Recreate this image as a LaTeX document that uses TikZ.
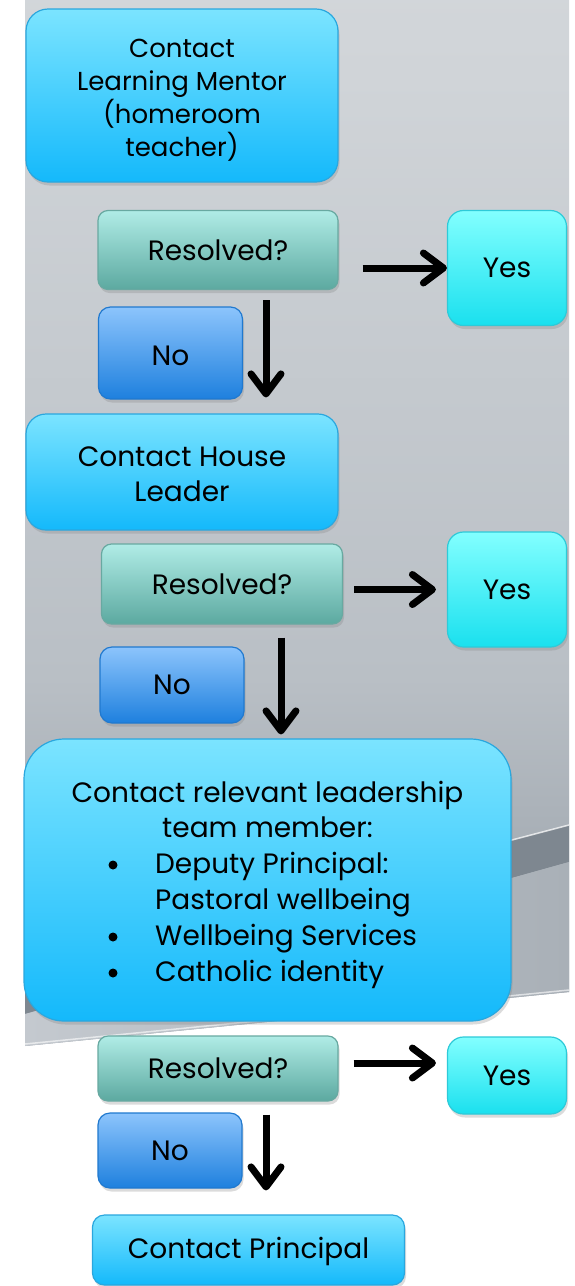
\documentclass[tikz,border=0pt]{standalone}
\usepackage{fontspec}
\setmainfont{Poppins}
\usetikzlibrary{arrows.meta,shadows,calc}
\definecolor{mbT}{HTML}{7BE4FF}
\definecolor{mbB}{HTML}{14B9FB}
\definecolor{mbD}{HTML}{2AA7DE}
\definecolor{rsT}{HTML}{B0ECE6}
\definecolor{rsB}{HTML}{5CA9A0}
\definecolor{rsD}{HTML}{68A9A1}
\definecolor{ysT}{HTML}{82FFFF}
\definecolor{ysB}{HTML}{1AE0EE}
\definecolor{ysD}{HTML}{2ECAD8}
\definecolor{noT}{HTML}{8CC4FC}
\definecolor{noB}{HTML}{1E80DE}
\definecolor{noD}{HTML}{2079CF}
\definecolor{pg1}{HTML}{DEE1E4}
\definecolor{pg2}{HTML}{D0D4D8}
\definecolor{pg3}{HTML}{B9BFC5}
\definecolor{pg4}{HTML}{8F98A1}
\definecolor{pg5}{HTML}{8A939C}
\definecolor{bandD}{HTML}{7E8790}
\definecolor{lowL}{HTML}{C4C9CF}
\definecolor{lowR}{HTML}{A9B0B7}
\pgfdeclareverticalshading{panelshade}{100bp}{color(0bp)=(pg5); color(23.5bp)=(pg4); color(42.6bp)=(pg3); color(71.3bp)=(pg2); color(100bp)=(pg1)}
\tikzset{
  box/.style={draw, line width=1.2pt, align=center, inner sep=0pt,
    drop shadow={shadow xshift=1.5pt, shadow yshift=-3.5pt, opacity=0.28}},
  mainbox/.style={box, draw=mbD, top color=mbT, bottom color=mbB, rounded corners=20pt},
  resbox/.style={box, draw=rsD, top color=rsT, bottom color=rsB, rounded corners=10pt,
    font=\fontsize{28}{33}\selectfont},
  yesbox/.style={box, draw=ysD, top color=ysT, bottom color=ysB, rounded corners=16pt,
    font=\fontsize{28}{33}\selectfont},
  nobox/.style={box, draw=noD, top color=noT, bottom color=noB, rounded corners=12pt,
    font=\fontsize{28}{33}\selectfont},
  bigtxt/.style={font=\fontsize{28}{36}\selectfont, inner sep=0pt},
  dot/.style={circle, fill=black, minimum size=9pt, inner sep=0pt},
  arr/.style={line width=7pt, -{Straight Barb[length=20pt, width=30pt, round]}}
}
\begin{document}
\begin{tikzpicture}[x=1pt,y=-1pt]
\useasboundingbox (0,0) rectangle (575,1286);
\fill[white] (0,0) rectangle (575,1286);
% background panel
\shade[shading=panelshade] (25,0) -- (569,0) -- (569,992) -- (25,1046) -- cycle;
\fill[bandD] (25,968) -- (569,825) -- (569,862) -- (25,1014) -- cycle;
\shade[left color=lowL, right color=lowR] (25,1014) -- (569,862) -- (569,992) -- (25,1046) -- cycle;
\draw[white, opacity=0.75, line width=1.5pt] (25,968) -- (569,825);
\draw[white, opacity=0.6, line width=1.5pt] (25,1044) -- (569,990);

% boxes
\node[mainbox, minimum width=312pt, minimum height=173pt, rounded corners=22pt,
  font=\fontsize{26}{33}\selectfont] (lm) at (182,95.5)
  {\rule{0pt}{28pt}Contact\\Learning Mentor\\(homeroom\\teacher)};
\node[resbox, minimum width=240pt, minimum height=79pt] (res1) at (218,250) {Resolved?};
\node[yesbox, minimum width=119pt, minimum height=115pt] (yes1) at (507,268) {Yes};
\node[nobox, minimum width=144pt, minimum height=92pt] (no1) at (170.5,353) {\rule{0pt}{26pt}No};

\node[mainbox, minimum width=312pt, minimum height=116pt,
  font=\fontsize{28}{35}\selectfont] (house) at (182,472) {\rule{0pt}{25pt}Contact House\\Leader};
\node[resbox, minimum width=241pt, minimum height=80pt] (res2) at (222,584) {Resolved?};
\node[yesbox, minimum width=119pt, minimum height=115pt] (yes2) at (507,589.5) {Yes};
\node[nobox, minimum width=144pt, minimum height=76pt] (no2) at (172,685) {No};

\node[mainbox, minimum width=487pt, minimum height=282pt, rounded corners=40pt] (lead) at (267.5,880) {};
\node[bigtxt, anchor=base] (l1) at (267.5,802) {Contact relevant leadership};
\node[bigtxt, anchor=base] (l2) at (267.5,837) {team member:};
\node[bigtxt, anchor=base west] (b1) at (155,873) {Deputy Principal:};
\node[bigtxt, anchor=base west] (b1b) at (155,909) {Pastoral wellbeing};
\node[bigtxt, anchor=base west] (b2) at (155,945) {Wellbeing Services};
\node[bigtxt, anchor=base west] (b3) at (155,981) {Catholic identity};
\node[dot] (d1) at (113,865) {};
\node[dot] (d2) at (113,937) {};
\node[dot] (d3) at (113,973) {};

\node[resbox, minimum width=240pt, minimum height=65pt] (res3) at (218,1068.5) {Resolved?};
\node[yesbox, minimum width=119pt, minimum height=77pt] (yes3) at (507,1075.5) {Yes};
\node[nobox, minimum width=144pt, minimum height=75pt] (no3) at (170,1150.5) {No};

\node[mainbox, minimum width=312pt, minimum height=70pt, rounded corners=12pt,
  font=\fontsize{28}{35}\selectfont] (prin) at (248.5,1250) {\rule{0pt}{25pt}Contact Principal};

% connectors
\coordinate (x1) at (266,0);
\coordinate (x2) at (281,0);
\coordinate (r3a) at ([yshift=5.5pt]res3.east);
\draw[arr, shorten <=24pt] (res1.east |- yes1.west) -- (yes1.west);
\draw[arr, shorten <=10pt, shorten >=16pt] (res1.south -| x1) -- (house.north -| x1);
\draw[arr, shorten <=11pt, shorten >=11pt] (res2.east |- yes2.west) -- (yes2.west);
\draw[arr, shorten <=13pt, shorten >=4pt] (res2.south -| x2) -- (lead.north -| x2);
\draw[arr, shorten <=15pt, shorten >=11pt] (r3a) -- (r3a -| yes3.west);
\draw[arr, shorten <=13pt, shorten >=24pt] (res3.south -| x1) -- (prin.north -| x1);
\end{tikzpicture}
\end{document}
